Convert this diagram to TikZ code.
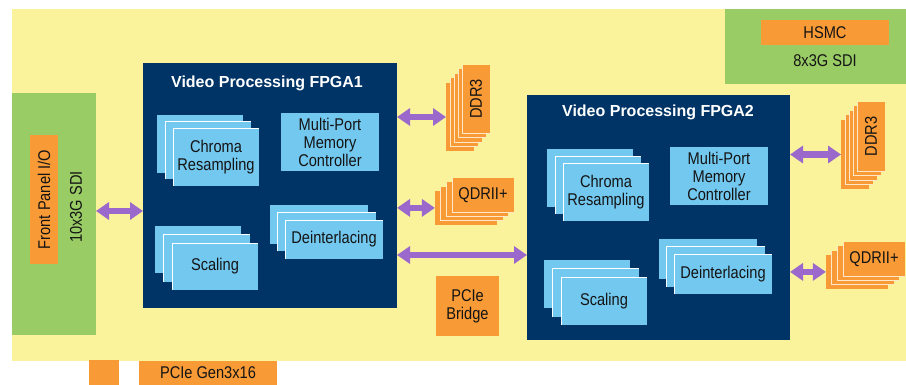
\documentclass[tikz,border=0pt]{standalone}
\usepackage{fontspec}
\setmainfont{Liberation Sans}
\newfontfamily\nfont{Liberation Sans}[FakeStretch=0.86]
\usetikzlibrary{arrows.meta}
\definecolor{board}{RGB}{250,243,155}
\definecolor{grn}{RGB}{154,204,102}
\definecolor{org}{RGB}{248,154,54}
\definecolor{navy}{RGB}{0,52,102}
\definecolor{lblue}{RGB}{115,200,240}
\definecolor{purp}{RGB}{155,104,204}
\definecolor{pale}{RGB}{255,232,200}
\definecolor{ink}{RGB}{20,20,20}
\tikzset{
  box/.style={inner sep=0pt, outer sep=0pt, anchor=north west},
  txt/.style={font=\nfont\fontsize{17}{18}\selectfont, text=ink, align=center, inner sep=0pt},
  ttl/.style={font=\fontsize{16}{18}\selectfont\bfseries, text=white, inner sep=0pt},
  dbl/.style={draw=purp, line width=6.5pt, {Triangle[length=13pt,width=17pt]}-{Triangle[length=13pt,width=17pt]}}
}
% name, x, y, w, h, fill
\newcommand{\bx}[6]{\node[box, fill=#6, minimum width=#4pt, minimum height=#5pt] (#1) at (#2,#3) {};}
% blue stack: name, backx, backy, w, h, dx, dy, text
\newcommand{\bstack}[8]{%
  \foreach \k in {0,1,2}{%
    \node[box, fill=lblue, minimum width=#4pt, minimum height=#5pt] (#1\k) at ({#2+\k*#6},{#3+\k*#7}) {};
    \ifnum\k>0 \draw[white, line width=0.9pt] (#1\k.south west) -- (#1\k.north west) -- (#1\k.north east);\fi
  }%
  \node[txt] at (#12) {#8};}
% orange stack: name, frontx, fronty, w, h, dx, dy, maxindex
\newcommand{\ostack}[8]{%
  \foreach \j in {#8,...,0}{%
    \node[box, fill=org, minimum width=#4pt, minimum height=#5pt] (#1\j) at ({#2-\j*#6},{#3+\j*#7}) {};
    \ifnum\j<#8 \draw[pale, line width=0.9pt] (#1\j.north west) -- (#1\j.south west) -- (#1\j.south east);\fi
  }}
\begin{document}
\begin{tikzpicture}[x=1pt,y=-1pt]
\useasboundingbox (0,0) rectangle (906,385);
\fill[white] (0,0) rectangle (906,385);
% board
\bx{board}{12}{9}{894}{352}{board}
% front panel
\bx{fp}{12}{93}{84}{242}{grn}
\bx{fpio}{30}{135}{28}{129}{org}
\node[txt, rotate=90] at (fpio.center) {Front Panel I/O};
\node[txt, rotate=90] (sdi10) at (76,207) {10x3G SDI};
% HSMC
\bx{hsmcg}{725}{9}{181}{75}{grn}
\bx{hsmc}{761}{20}{128}{25}{org}
\node[txt] at (hsmc.center) {HSMC};
\node[txt] (sdi8) at (825,61) {8x3G SDI};
% FPGA1
\bx{fpga1}{143}{63}{254}{245}{navy}
\node[ttl] at (267,83) {Video Processing FPGA1};
\bstack{chA}{157}{115}{86}{58}{8}{6.5}{Chroma\\Resampling}
\bx{mpA}{281}{113}{98}{58}{lblue}
\node[txt] at (mpA.center) {Multi-Port\\Memory\\Controller};
\bstack{scA}{155}{226}{86}{47}{8.5}{8.5}{Scaling}
\bstack{diA}{270}{205}{98}{39}{7.5}{7.5}{Deinterlacing}
% FPGA2
\bx{fpga2}{527}{95}{263}{245}{navy}
\node[ttl] at (658,112) {Video Processing FPGA2};
\bstack{chB}{547}{149}{86}{58}{8}{7}{Chroma\\Resampling}
\bx{mpB}{670}{147}{98}{58}{lblue}
\node[txt] at (mpB.center) {Multi-Port\\Memory\\Controller};
\bstack{scB}{544}{260}{86}{48}{8.5}{8.5}{Scaling}
\bstack{diB}{659}{239}{98}{40}{7.5}{7.5}{Deinterlacing}
% memories
\ostack{ddrA}{462}{65}{28}{68}{4}{4.5}{4}
\node[txt, rotate=90] at (ddrA0.center) {DDR3};
\ostack{qdrA}{452}{178}{62}{34}{5.7}{4.3}{3}
\node[txt] at (qdrA0.center) {QDRII+};
\ostack{ddrB}{857}{102}{28}{69}{4}{4.5}{4}
\node[txt, rotate=90] at (ddrB0.center) {DDR3};
\ostack{qdrB}{843}{242}{62}{34}{5.7}{4.3}{3}
\node[txt] at (qdrB0.center) {QDRII+};
% PCIe bridge
\bx{pcib}{436}{276}{63}{60}{org}
\node[txt] at (pcib.center) {PCIe\\Bridge};
% bottom
\bx{botA}{89}{360}{30}{25}{org}
\bx{gen3}{139}{361}{138}{24}{org}
\node[txt] at (gen3.center) {PCIe Gen3x16};
% connectors
\draw[dbl] (fp.east |- 0,211) -- (fpga1.west |- 0,211);
\draw[dbl] (fpga1.east |- ddrA4.west) -- (ddrA4.west);
\draw[dbl] (fpga1.east |- qdrA3.west) -- (qdrA3.west);
\draw[dbl] (fpga1.east |- 0,255) -- (fpga2.west |- 0,255);
\draw[dbl] (fpga2.east |- ddrB4.west) -- (ddrB4.west);
\draw[dbl] (fpga2.east |- qdrB3.west) -- (qdrB3.west);
\end{tikzpicture}
\end{document}
